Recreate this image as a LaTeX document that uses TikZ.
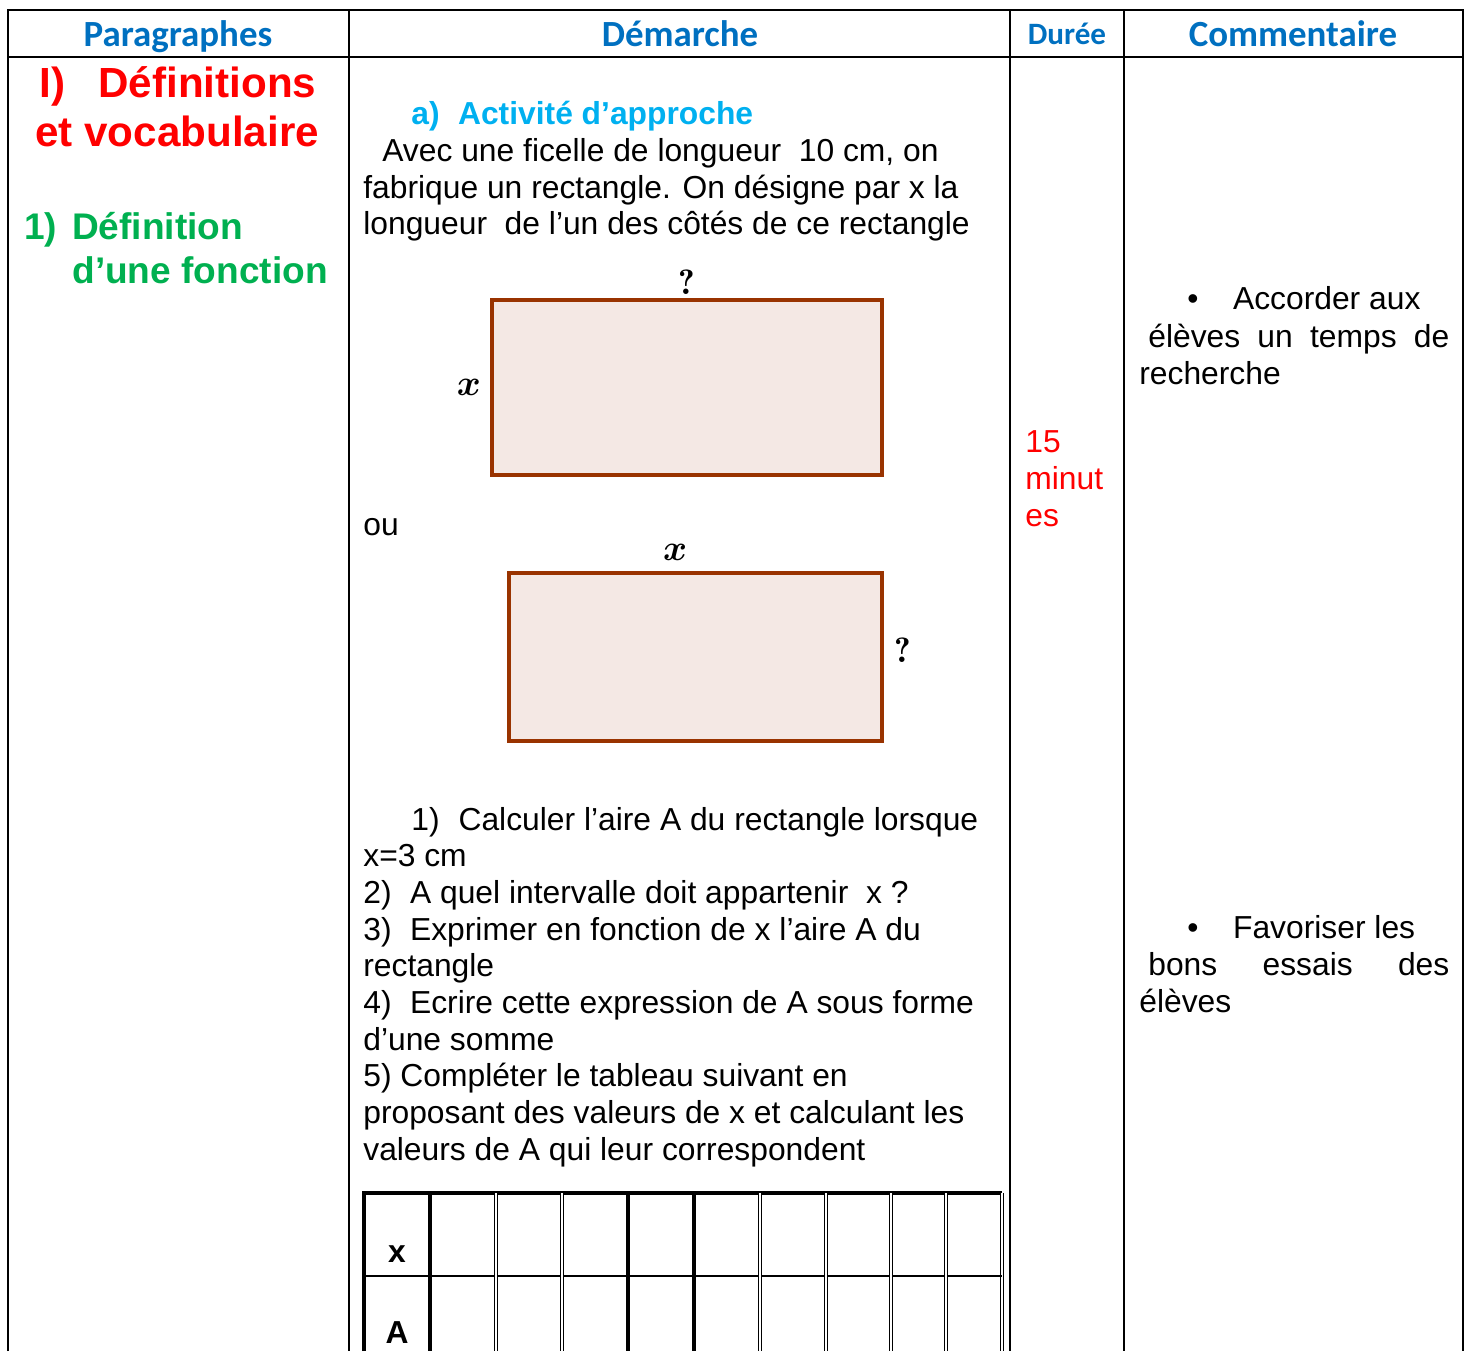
\documentclass[tikz,border=0pt]{standalone}
\usepackage{fontspec}
\setmainfont{Liberation Sans}
\newfontfamily\headfont{Carlito}
\usepackage{amsmath}
\usepackage{xcolor}
\usetikzlibrary{positioning}

\definecolor{headblue}{HTML}{0070C0}
\definecolor{titlered}{HTML}{FF0000}
\definecolor{titlegreen}{HTML}{00B050}
\definecolor{actblue}{HTML}{00B0F0}
\definecolor{rectbrown}{HTML}{993300}
\definecolor{rectfill}{HTML}{F4E8E4}

\newcommand{\txtsize}{\fontsize{18.1}{20.8}\selectfont}
\newcommand{\lmbold}{\fontfamily{lmr}\bfseries\selectfont}

\tikzset{
  rule/.style={line width=1.3pt},
  gridline/.style={line width=1.8pt},
  dblline/.style={double, double distance=0.9pt, line width=0.6pt},
  head/.style={inner sep=0pt, anchor=base, text=headblue, font=\headfont\bfseries\fontsize{21}{25}\selectfont},
  txt/.style={inner sep=0pt, anchor=base west, font=\txtsize},
  redtitle/.style={txt, text=titlered, font=\bfseries\fontsize{24}{28}\selectfont},
  greentitle/.style={txt, text=titlegreen, font=\bfseries\fontsize{21.1}{25}\selectfont},
  figrect/.style={draw=rectbrown, fill=rectfill, line width=2.2pt, inner sep=0pt},
  lbl/.style={inner sep=0pt, font=\fontsize{20}{22}\selectfont},
}

\begin{document}
\begin{tikzpicture}[x=0.02cm,y=-0.02cm]
    \useasboundingbox (0,0) rectangle (1469,1351);

    % Outer table
    \draw[rule] (8,1351) -- (8,10) -- (1463,10) -- (1463,1351);
    \draw[rule] (8,57) -- (1463,57);
    \foreach \cx in {349,1010,1124}
        \draw[rule] (\cx,10) -- (\cx,1351);

    % Header row
    \node[head] (hpar) at (178,47) {Paragraphes};
    \node[head] (hdem) at (680,47) {Démarche};
    \node[head, font=\headfont\bfseries\fontsize{17.7}{21}\selectfont] (hdur) at (1067,45) {Durée};
    \node[head] (hcom) at (1293,47) {Commentaire};

    % Paragraphes
    \node[redtitle] (titI) at (39,98) {I)\hspace{19pt}Définitions};
    \node[redtitle] (titIb) at (35,147) {et vocabulaire};
    \node[greentitle] (tit1) at (24,240) {1)\hspace{8.5pt}Définition};
    \node[greentitle] (tit1b) at (72,283) {d’une fonction};

    % Demarche: activity text
    \node[txt, text=actblue, font=\bfseries\txtsize] (act) at (411,125) {a)\hspace{10.5pt}Activité d’approche};
    \node[txt] (lin1) at (382,162) {Avec une ficelle de longueur\ \ 10 cm, on};
    \node[txt] (lin2) at (363,199) {fabrique un rectangle. On désigne par x la};
    \node[txt] (lin3) at (363,235) {longueur\ \ de l’un des côtés de ce rectangle};

    % Rectangles
    \node[figrect, minimum width=7.8cm, minimum height=3.5cm] (rectA) at (687,387.5) {};
    \node[lbl, above=2pt of rectA] (qA) {\lmbold ?};
    \node[lbl, left=5pt of rectA] (xA) {$\boldsymbol{x}$};
    \node[txt] (ou) at (363,535) {ou};
    \node[figrect, minimum width=7.46cm, minimum height=3.36cm] (rectB) at (695.5,657) {};
    \node[lbl] (xB) at (675,552) {$\boldsymbol{x}$};
    \node[lbl] (qB) at (903,650) {\lmbold ?};

    % Questions
    \node[txt] (que1) at (411,830) {1)\hspace{10.8pt}Calculer l’aire A du rectangle lorsque};
    \node[txt] (que1b) at (363,866.7) {x=3 cm};
    \node[txt] (que2) at (363,903.4) {2)\hspace{10.5pt}A quel intervalle doit appartenir\ \ x ?};
    \node[txt] (que3) at (363,940.1) {3)\hspace{10.5pt}Exprimer en fonction de x l’aire A du};
    \node[txt] (que3b) at (363,976.8) {rectangle};
    \node[txt] (que4) at (363,1013.5) {4)\hspace{10.5pt}Ecrire cette expression de A sous forme};
    \node[txt] (que4b) at (363,1050.2) {d’une somme};
    \node[txt] (que5) at (363,1086.9) {5) Compléter le tableau suivant en};
    \node[txt] (que5b) at (363,1123.6) {proposant des valeurs de x et calculant les};
    \node[txt] (que5c) at (363,1160.3) {valeurs de A qui leur correspondent};

    % Table of values
    \draw[gridline] (364,1351) -- (364,1193) -- (1002,1193);
    \draw[dblline] (1002,1193) -- (1002,1351);
    \draw[rule] (364,1276) -- (1002,1276);
    \foreach \cx in {430,628,694}
        \draw[gridline] (\cx,1193) -- (\cx,1351);
    \foreach \cx in {496,562,760,826,891,946}
        \draw[dblline] (\cx,1193) -- (\cx,1351);
    \node[txt, anchor=base, font=\bfseries\txtsize] (rowx) at (397,1262) {x};
    \node[txt, anchor=base, font=\bfseries\txtsize] (rowA) at (397,1343) {A};

    % Duree
    \node[txt, text=titlered] (dur1) at (1025,452) {15};
    \node[txt, text=titlered] (dur2) at (1025,489) {minut};
    \node[txt, text=titlered] (dur3) at (1025,526) {es};

    % Commentaire
    \node[txt] (com1) at (1187,310) {•\hspace{19.7pt}Accorder aux};
    \node[txt] (com2) at (1148,347) {\makebox[6.02cm][s]{élèves un temps de}};
    \node[txt] (com3) at (1139,384) {recherche};
    \node[txt] (com4) at (1187,938) {•\hspace{19.7pt}Favoriser les};
    \node[txt] (com5) at (1148,975) {\makebox[6.02cm][s]{bons essais des}};
    \node[txt] (com6) at (1139,1012) {élèves};
\end{tikzpicture}
\end{document}
